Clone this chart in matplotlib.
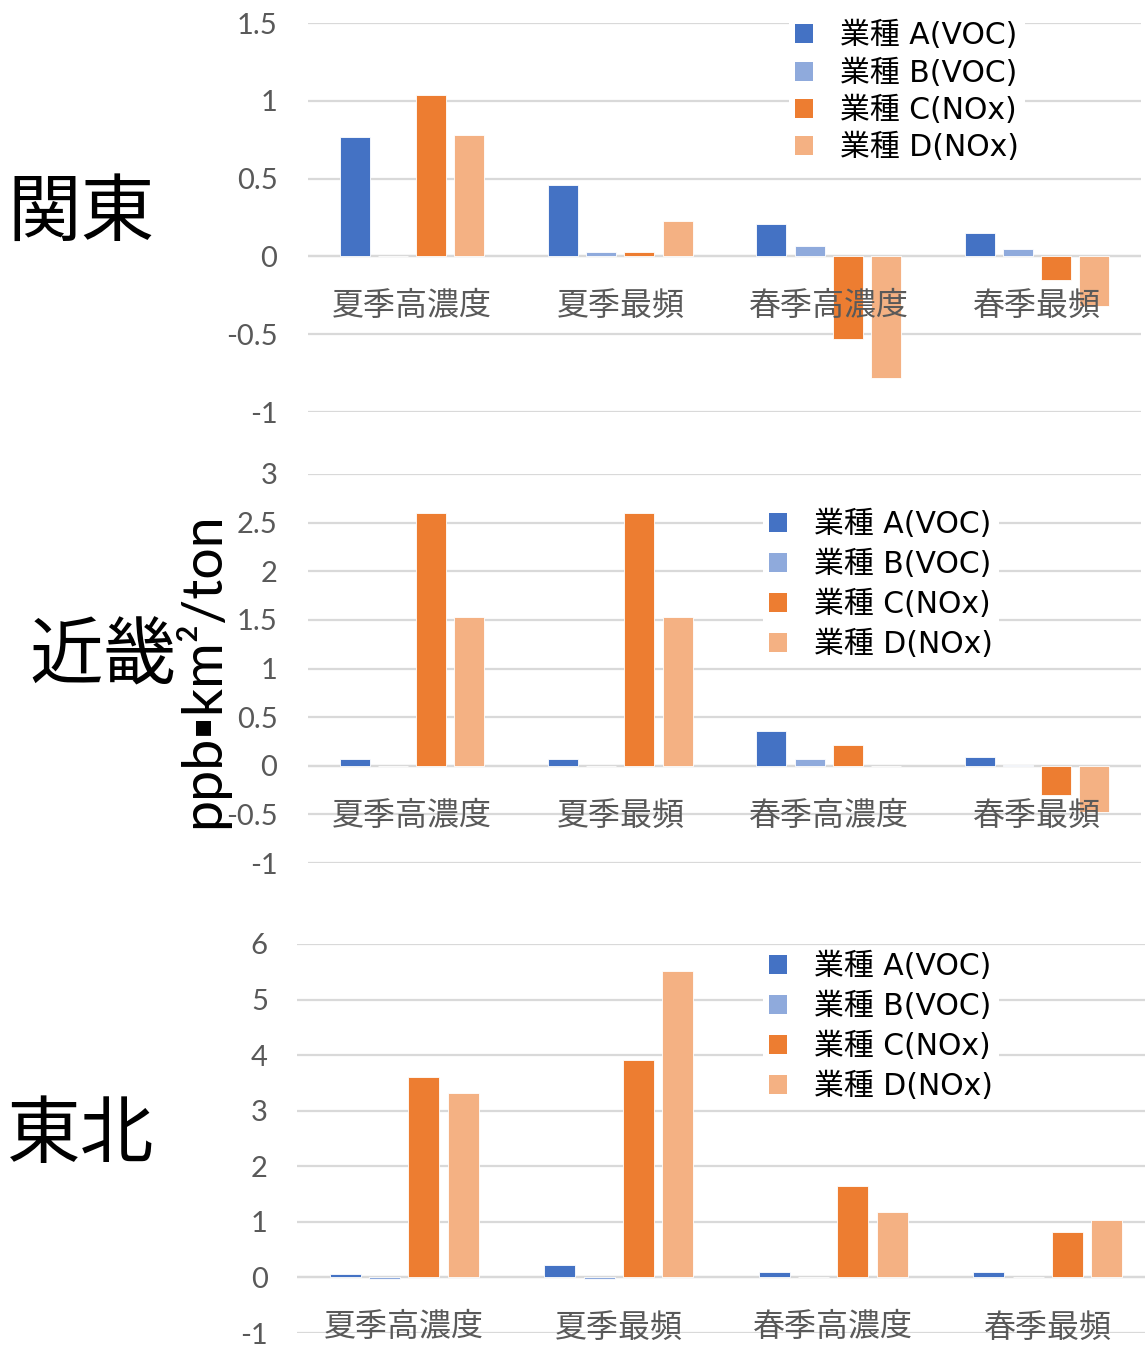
import matplotlib
matplotlib.use("Agg")
import matplotlib.pyplot as plt
from matplotlib.patches import Patch
import numpy as np

# ---- data ----
categories = ["夏季高濃度", "夏季最頻", "春季高濃度", "春季最頻"]
series_names = ["業種 A(VOC)", "業種 B(VOC)", "業種 C(NOx)", "業種 D(NOx)"]
series_colors = ["#4472C4", "#8FAADC", "#ED7D31", "#F4B183"]

kanto_A = [0.77, 0.46, 0.21, 0.15]
kanto_B = [0.0, 0.03, 0.07, 0.05]
kanto_C = [1.04, 0.03, -0.53, -0.15]
kanto_D = [0.78, 0.23, -0.78, -0.32]
kanto_ticks = [-1, -0.5, 0, 0.5, 1, 1.5]

kinki_A = [0.07, 0.07, 0.36, 0.09]
kinki_B = [0.0, 0.0, 0.07, 0.005]
kinki_C = [2.6, 2.6, 0.21, -0.30]
kinki_D = [1.53, 1.53, 0.0, -0.48]
kinki_ticks = [-1, -0.5, 0, 0.5, 1, 1.5, 2, 2.5, 3]

tohoku_A = [0.07, 0.23, 0.10, 0.09]
tohoku_B = [-0.02, -0.03, 0.0, 0.005]
tohoku_C = [3.6, 3.92, 1.64, 0.81]
tohoku_D = [3.31, 5.52, 1.17, 1.03]
tohoku_ticks = [-1, 0, 1, 2, 3, 4, 5, 6]

regions = ["関東", "近畿", "東北"]
unit_label = "ppb▪km²/ton"

# ---- figure geometry (pixels) ----
W, H = 1145, 1348
fig = plt.figure(figsize=(W / 100, H / 100), dpi=100)
fig.patch.set_facecolor("white")

CJK = ["Noto Sans CJK JP", "DejaVu Sans"]
MIXED = ["DejaVu Sans", "Noto Sans CJK JP"]
NUM = ["Lato", "DejaVu Sans"]
GRAY = "#595959"
GRID = "#D9D9D9"


def fx(x):
    return x / W


def fy(y):
    return 1 - y / H


def fmt(v):
    return f"{v:g}"


def panel(left, right, top_px, bottom_px, ticks, values, legend_anchor,
          legend_spacing, tick_pad):
    ax = fig.add_axes([fx(left), fy(bottom_px), fx(right - left), fy(top_px) - fy(bottom_px)])
    ax.set_xlim(-0.5, len(categories) - 0.5)
    ax.set_ylim(ticks[0], ticks[-1])
    x = np.arange(len(categories))
    step, width = 0.183, 0.144
    handles = []
    for k, (vals, col, name) in enumerate(zip(values, series_colors, series_names)):
        ax.bar(x + (k - 1.5) * step, vals, width, color=col, edgecolor="white",
               linewidth=0.6, zorder=3)
        handles.append(Patch(facecolor=col, edgecolor="none", label=name))
    ax.set_yticks(ticks)
    ax.set_yticklabels([fmt(t) for t in ticks], fontfamily=NUM, fontsize=21, color=GRAY)
    ax.tick_params(axis="y", length=0, pad=tick_pad)
    ax.set_xticks([])
    ax.grid(axis="y", color=GRID, linewidth=1.6, zorder=0)
    for s in ax.spines.values():
        s.set_visible(False)
    ax.axhline(0, color=GRID, linewidth=1.6, zorder=2)
    for i, c in enumerate(categories):
        ax.annotate(c, xy=(i, 0), xytext=(0, -50 * 0.72), textcoords="offset points",
                    ha="center", va="center", fontsize=23, color=GRAY,
                    fontfamily=CJK, zorder=4)
    leg = ax.legend(handles=handles, loc="upper left",
                    bbox_to_anchor=(fx(legend_anchor[0]), fy(legend_anchor[1])),
                    bbox_transform=fig.transFigure, frameon=True, facecolor="white",
                    edgecolor="none", framealpha=1, fancybox=False,
                    prop={"family": MIXED, "size": 21.5}, handlelength=0.6,
                    handleheight=0.6, handletextpad=0.9, labelspacing=legend_spacing,
                    borderpad=0.2, borderaxespad=0)
    leg.set_zorder(5)
    return ax


panel(308, 1141, 23, 412, kanto_ticks, [kanto_A, kanto_B, kanto_C, kanto_D],
      (789, 15), 0.27, 22)
panel(308, 1141, 474, 863, kinki_ticks, [kinki_A, kinki_B, kinki_C, kinki_D],
      (763, 504), 0.36, 22)
panel(297, 1155, 944, 1333, tohoku_ticks, [tohoku_A, tohoku_B, tohoku_C, tohoku_D],
      (763, 946), 0.36, 21)

# region names
for name, (cx, cy) in zip(regions, [(81, 214), (103, 658), (81, 1136)]):
    fig.text(fx(cx), fy(cy), name, fontsize=53, fontfamily=CJK, ha="center",
             va="center", color="black")

# shared unit label
fig.text(fx(201), fy(670), unit_label, rotation=90, fontsize=40, fontfamily=NUM,
         ha="center", va="center", color="black")

fig.savefig("out.png", dpi=100, facecolor="white")
